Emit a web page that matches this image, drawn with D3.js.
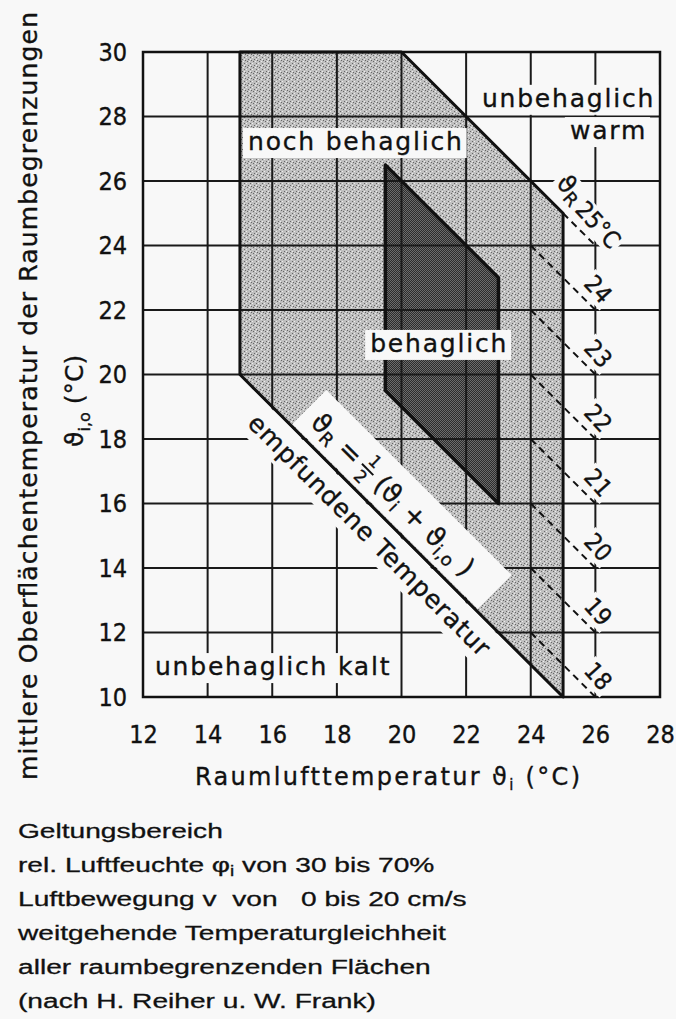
<!DOCTYPE html>
<html lang="de">
<head>
<meta charset="UTF-8">
<title>Behaglichkeitsfeld</title>
<script src="https://cdn.jsdelivr.net/npm/d3@7"></script>
<style>
  body { margin: 0; background: #f8f8f8; }
  svg text { font-family: "DejaVu Sans", sans-serif; fill: #111; stroke: #111; stroke-width: 0.35px; }
  .tick text, .cond { font-family: "DejaVu Sans Condensed", "DejaVu Sans", sans-serif; font-stretch: condensed; }
  .note text { font-family: "Liberation Sans", Arial, sans-serif; white-space: pre; stroke-width: 0.3px; }
</style>
</head>
<body>
<script>
var width = 676, height = 1019;
var bg = "#f8f8f8";

// Achsen
var xTicks = [12, 14, 16, 18, 20, 22, 24, 26, 28];
var yTicks = [10, 12, 14, 16, 18, 20, 22, 24, 26, 28, 30];

// Feld "noch behaglich": [Raumlufttemperatur, Oberflaechentemperatur]
var nochBehaglich = [[15, 20], [15, 30], [20, 30], [25, 25], [25, 10]];
// Feld "behaglich"
var behaglich = [[19.5, 26.5], [23, 23], [23, 16], [19.5, 19.5]];
// Linien gleicher empfundener Temperatur
var thetaR = [18, 19, 20, 21, 22, 23, 24, 25];

var notes = [
  "Geltungsbereich",
  "rel. Luftfeuchte φ|i| von 30 bis 70%",
  "Luftbewegung v  von   0 bis 20 cm/s",
  "weitgehende Temperaturgleichheit",
  "aller raumbegrenzenden Flächen",
  "(nach H. Reiher u. W. Frank)"
];

var x = d3.scaleLinear().domain([12, 28]).range([143, 660]);
var y = d3.scaleLinear().domain([10, 30]).range([697, 52]);

var svg = d3.select("body").append("svg")
    .attr("width", width)
    .attr("height", height);

svg.append("rect").attr("width", width).attr("height", height).attr("fill", bg);

// Rasterflaechen
var defs = svg.append("defs");
var pl = defs.append("pattern").attr("id", "lite")
    .attr("patternUnits", "userSpaceOnUse").attr("width", 6).attr("height", 6);
pl.append("rect").attr("width", 6).attr("height", 6).attr("fill", "#bfbfbf");
[[1, 1], [4, 3], [2, 5], [5, 0]].forEach(function(p) {
  pl.append("rect").attr("x", p[0]).attr("y", p[1]).attr("width", 1).attr("height", 1).attr("fill", "#666");
});
[[3, 1], [0, 3], [4, 5]].forEach(function(p) {
  pl.append("rect").attr("x", p[0]).attr("y", p[1]).attr("width", 1).attr("height", 1).attr("fill", "#ececec");
});
var pd = defs.append("pattern").attr("id", "dark")
    .attr("patternUnits", "userSpaceOnUse").attr("width", 2).attr("height", 2);
pd.append("rect").attr("width", 2).attr("height", 2).attr("fill", "#2c2c2c");
pd.append("rect").attr("width", 1).attr("height", 1).attr("fill", "#6c6c6c");
pd.append("rect").attr("x", 1).attr("y", 1).attr("width", 1).attr("height", 1).attr("fill", "#6c6c6c");

var poly = d3.line().x(function(d) { return x(d[0]); }).y(function(d) { return y(d[1]); });

svg.append("path").attr("d", poly(nochBehaglich) + "Z").attr("fill", "url(#lite)");
svg.append("path").attr("d", poly(behaglich) + "Z").attr("fill", "url(#dark)");

// Gitter
var grid = svg.append("g").attr("stroke", "#1a1a1a").attr("stroke-width", 2);
grid.selectAll(".gv").data(xTicks.slice(1, -1)).join("line")
    .attr("x1", x).attr("x2", x).attr("y1", y(10)).attr("y2", y(30));
grid.selectAll(".gh").data(yTicks.slice(1, -1)).join("line")
    .attr("y1", y).attr("y2", y).attr("x1", x(12)).attr("x2", x(28));

svg.append("rect")
    .attr("x", x(12)).attr("y", y(30))
    .attr("width", x(28) - x(12)).attr("height", y(10) - y(30))
    .attr("fill", "none").attr("stroke", "#111").attr("stroke-width", 2.5);

// Feldgrenzen
svg.append("path").attr("d", poly(nochBehaglich) + "Z")
    .attr("fill", "none").attr("stroke", "#111").attr("stroke-width", 3).attr("stroke-linejoin", "round");
svg.append("path").attr("d", poly(behaglich) + "Z")
    .attr("fill", "none").attr("stroke", "#111").attr("stroke-width", 3.5).attr("stroke-linejoin", "round");

// Achsen
svg.append("g").attr("transform", "translate(0," + y(10) + ")")
    .call(d3.axisBottom(x).tickValues(xTicks).tickSize(0).tickPadding(28));
svg.append("g").attr("transform", "translate(" + x(12) + ",0)")
    .call(d3.axisLeft(y).tickValues(yTicks).tickSize(0).tickPadding(16));
svg.selectAll(".domain").remove();
svg.selectAll(".tick text").attr("font-size", 25).attr("fill", "#111");

// Achsentitel
var xt = svg.append("text").attr("x", 195).attr("y", 785).attr("font-size", 24)
    .attr("textLength", 385);
xt.append("tspan").text("Raumlufttemperatur ϑ");
xt.append("tspan").attr("font-size", 15).attr("dy", 5).text("i");
xt.append("tspan").attr("dy", -5).text(" (°C)");

svg.append("text").attr("transform", "translate(37,780) rotate(-90)")
    .attr("font-size", 25).attr("textLength", 768)
    .text("mittlere Oberflächentemperatur der Raumbegrenzungen");

var yt = svg.append("text").attr("transform", "translate(83,447) rotate(-90)").attr("font-size", 25);
yt.append("tspan").text("ϑ");
yt.append("tspan").attr("font-size", 16).attr("dy", 7).text("i,o");
yt.append("tspan").attr("dy", -7).text(" (°C)");

// Beschriftungen mit Freistellung
function boxed(str, px, py, anchor) {
  var g = svg.append("g");
  var r = g.append("rect").attr("fill", bg).attr("stroke", "none");
  var t = g.append("text").attr("x", x(px)).attr("y", y(py))
      .attr("text-anchor", anchor).attr("font-size", 25)
      .attr("letter-spacing", 1.8).text(str);
  var b = t.node().getBBox();
  r.attr("x", b.x - 5).attr("y", b.y + 1).attr("width", b.width + 8).attr("height", b.height + 1);
}
boxed("noch behaglich", 15.25, 26.96, "start");
boxed("unbehaglich", 27.85, 28.3, "end");
boxed("warm", 27.6, 27.3, "end");
boxed("behaglich", 19.03, 20.7, "start");
boxed("unbehaglich kalt", 12.37, 10.68, "start");

// Diagonale: empfundene Temperatur
var ang = Math.atan2(y(10) - y(20), x(25) - x(15)) * 180 / Math.PI;
var diag = svg.append("g").attr("transform", "translate(" + x(15) + "," + y(20) + ") rotate(" + ang + ")");
diag.append("rect").attr("x", 72).attr("y", -50).attr("width", 262).attr("height", 48).attr("fill", bg);
diag.append("rect").attr("x", 20).attr("y", 2).attr("width", 370).attr("height", 38).attr("fill", bg);

diag.append("text").attr("x", 40).attr("y", 31).attr("font-size", 25).attr("textLength", 330)
    .text("empfundene Temperatur");

var fBase = -14;
var f1 = diag.append("text").attr("x", 84).attr("y", fBase).attr("font-size", 27);
f1.append("tspan").text("ϑ");
f1.append("tspan").attr("font-size", 18).attr("dy", 5).text("R");
f1.append("tspan").attr("dy", -5).text(" =");
var fx = 84 + f1.node().getComputedTextLength() + 13;
diag.append("text").attr("x", fx).attr("y", fBase - 14).attr("font-size", 17)
    .attr("text-anchor", "middle").text("1");
diag.append("line").attr("x1", fx - 8).attr("x2", fx + 8)
    .attr("y1", fBase - 9).attr("y2", fBase - 9).attr("stroke", "#111").attr("stroke-width", 2);
diag.append("text").attr("x", fx).attr("y", fBase + 7).attr("font-size", 17)
    .attr("text-anchor", "middle").text("2");
var f2 = diag.append("text").attr("x", fx + 15).attr("y", fBase).attr("font-size", 27);
f2.append("tspan").text("(ϑ");
f2.append("tspan").attr("font-size", 18).attr("dy", 5).text("i");
f2.append("tspan").attr("dy", -5).text(" + ϑ");
f2.append("tspan").attr("font-size", 18).attr("dy", 5).text("i,o");
f2.append("tspan").attr("dy", -5).text(" )");

// Skala der empfundenen Temperatur
svg.append("g").selectAll("line").data(thetaR).join("line")
    .attr("x1", function(t) { return x(t === 25 ? 25 : 24); })
    .attr("y1", function(t) { return y(2 * t - (t === 25 ? 25 : 24)); })
    .attr("x2", x(26))
    .attr("y2", function(t) { return y(2 * t - 26); })
    .attr("stroke", "#111").attr("stroke-width", 2).attr("stroke-dasharray", "7,5");

thetaR.forEach(function(t) {
  var g = svg.append("g")
      .attr("transform", "translate(" + (x(26) + 3) + "," + (y(2 * t - 26) - 21) + ") rotate(48)");
  var r = g.append("rect").attr("fill", bg);
  var tx = g.append("text").attr("class", "cond").attr("text-anchor", "middle")
      .attr("dy", "0.36em").attr("font-size", 24).text(t === 25 ? t + "°C" : t);
  var b = tx.node().getBBox();
  r.attr("x", b.x - 3).attr("y", b.y + 2).attr("width", b.width + 6).attr("height", b.height - 3);
  if (t === 25) {
    var s = g.append("text").attr("x", -31).attr("dy", "0.2em").attr("text-anchor", "end").attr("font-size", 25);
    s.append("tspan").text("ϑ");
    s.append("tspan").attr("font-size", 18).attr("dy", 5).text("R");
    var sb = s.node().getBBox();
    g.insert("rect", "text").attr("fill", bg)
        .attr("x", sb.x - 3).attr("y", sb.y + 2).attr("width", sb.width + 6).attr("height", sb.height - 3);
  }
});

// Geltungsbereich
var note = svg.append("g").attr("class", "note").attr("transform", "translate(18,0) scale(1.34,1)");
notes.forEach(function(s, i) {
  var t = note.append("text").attr("x", 0).attr("y", 838 + i * 34).attr("font-size", 21);
  var parts = s.split("|");
  parts.forEach(function(p, j) {
    var ts = t.append("tspan").text(p);
    if (j === 1) ts.attr("font-size", 14).attr("dy", 4);
    if (j === 2) ts.attr("dy", -4);
  });
});
</script>
</body>
</html>
